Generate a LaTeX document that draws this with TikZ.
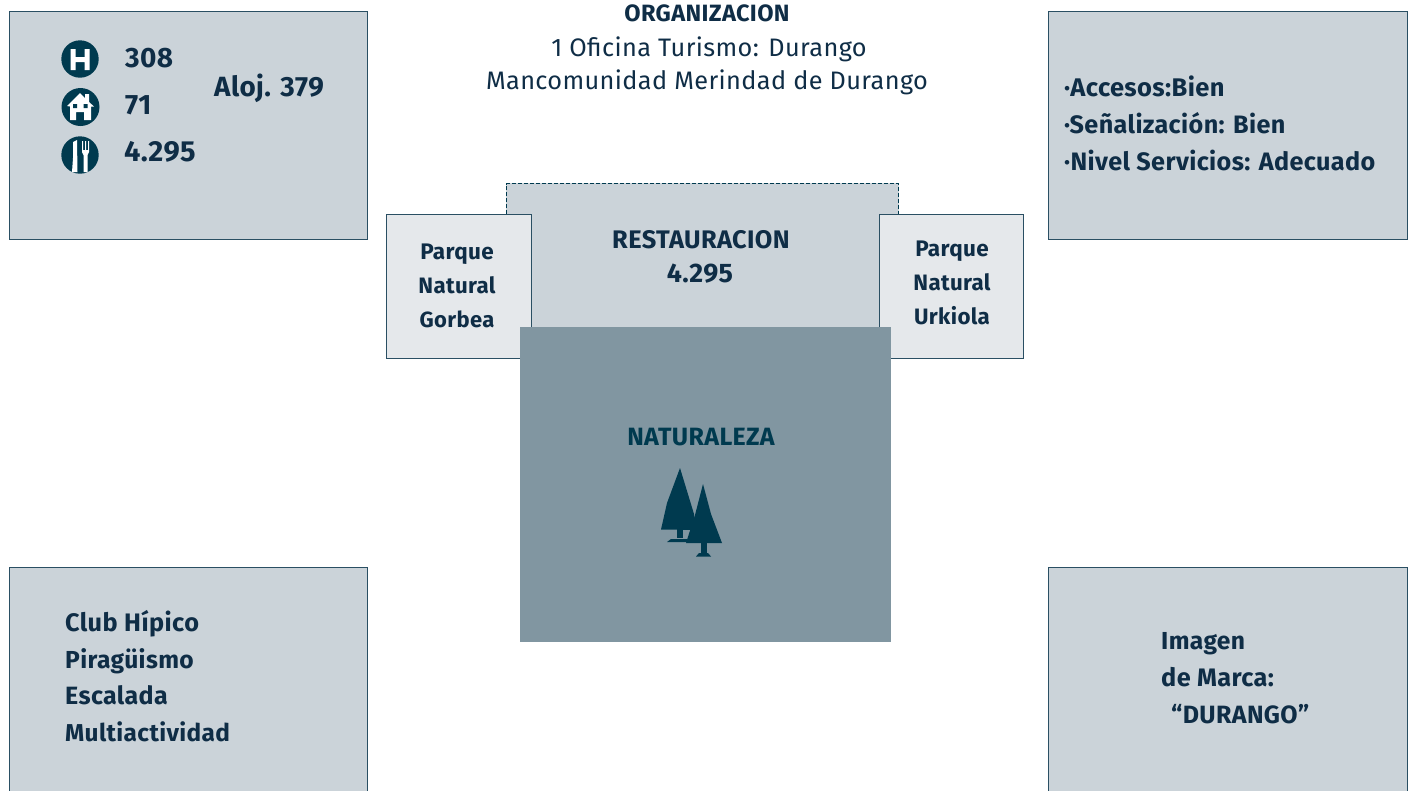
\documentclass[tikz,border=0pt]{standalone}
\usepackage{fontspec}
\setmainfont{Fira Sans}[LetterSpace=1.5]
\definecolor{boxfill}{HTML}{CBD3D9}
\definecolor{boxline}{HTML}{2A4F63}
\definecolor{lightfill}{HTML}{E5E8EB}
\definecolor{dark}{HTML}{003A4F}
\definecolor{ink}{HTML}{0F2D46}
\definecolor{natfill}{HTML}{8196A1}
\tikzset{
  panel/.style={draw=boxline,line width=0.9pt,fill=boxfill},
  sidebox/.style={draw=boxline,line width=0.9pt,fill=lightfill},
  lab/.style={anchor=base west,inner sep=0pt,text=ink,font=\fontsize{#1}{#1}\selectfont\bfseries},
  lab/.default=25,
  clab/.style={lab=#1,anchor=base},
  clab/.default=25,
  plain/.style={anchor=base,inner sep=0pt,text=ink,font=\fontsize{25.3}{25}\selectfont},
  icon/.style={fill=dark,draw=none},
  white/.style={fill=white,draw=none}
}
\begin{document}
\begin{tikzpicture}[x=1pt,y=-1pt]
\useasboundingbox (0,0) rectangle (1412,790);
% panels
\path[panel] (9,11) rectangle (367,239);
\path[panel] (1048,11) rectangle (1407,239);
\path[panel] (9,800) -- (9,567) -- (367,567) -- (367,800);
\path[panel] (1048,800) -- (1048,567) -- (1407,567) -- (1407,800);
% restauracion
\fill[boxfill] (506,183) rectangle (899,330);
\draw[dark,line width=1.8pt,dash pattern=on 4pt off 2pt] (506.5,214) -- (506.5,183.5) -- (898.5,183.5) -- (898.5,214);
\path[sidebox] (386.5,214) rectangle (531,358);
\path[sidebox] (879,214) rectangle (1023,358);
\fill[natfill] (520,327) rectangle (891,642);
% top text
\node[clab=23.6] (org) at (707,21) {ORGANIZACION};
\node[plain] (org1) at (709,56) {1 Oficina Turismo: Durango};
\node[plain] (org2) at (707,89) {Mancomunidad Merindad de Durango};
% left top
\node[lab=28] (n1) at (125,67) {308};
\node[lab=28] (n2) at (125,114) {71};
\node[lab=29] (n3) at (124,161) {4.295};
\node[lab=27.8] (n4) at (214,96) {Aloj. 379};
% icons
\fill[icon] (80,59) circle (18.7);
\fill[white] (70.5,49) rectangle (75.5,70) (84.5,49) rectangle (89.5,70) (75,57) rectangle (85,62);
\fill[icon] (80.5,107) circle (19);
\fill[white] (67,106) -- (80,93) -- (85,98) -- (85,94) -- (89,94) -- (89,102) -- (94,106.5) -- (91,106.5) -- (91,120) -- (84,120) -- (84,112) -- (76,112) -- (76,120) -- (70,120) -- (70,106.5) -- cycle;
\fill[icon] (73,104) rectangle (77,108) (83.5,104) rectangle (87.5,108);
\fill[icon] (80,155) circle (18.7);
\fill[white] (73,142) -- (77,140) -- (77.5,172) -- (72,172) -- (73,158) -- cycle;
\fill[white] (82,152) -- (82,141) -- (83,141) -- (83,150) -- (85,150) -- (85,141) -- (86,141) -- (86,150) -- (88,150) -- (88,141) -- (89,141) -- (89,152) -- (87.5,155) -- (87.5,172) -- (83.5,172) -- (83.5,155) -- cycle;
% right top
\node[lab=25.5] (a1) at (1064,96) {·Accesos:Bien};
\node[lab=25.2] (a2) at (1064,133) {·Señalización: Bien};
\node[lab=25.2] (a3) at (1064,170) {·Nivel Servicios: Adecuado};
% bottom left
\node[lab=25.3] (b1) at (65,631) {Club Hípico};
\node[lab=24.6] (b2) at (65,668) {Piragüismo};
\node[lab=25] (b3) at (65,704) {Escalada};
\node[lab=24.4] (b4) at (65,741) {Multiactividad};
% bottom right
\node[lab=24.6] (c1) at (1161,649) {Imagen};
\node[lab=25.3] (c2) at (1161,686) {de Marca:};
\node[lab=25] (c3) at (1171,723) {“DURANGO”};
% centre
\node[clab=25.4] (r1) at (701,248) {RESTAURACION};
\node[clab=26.8] (r2) at (700,282) {4.295};
\node[clab=22.5] (g1) at (457,259) {Parque};
\node[clab=22.3] (g2) at (457,293) {Natural};
\node[clab=22] (g3) at (457,327) {Gorbea};
\node[clab=22.5] (u1) at (952,256) {Parque};
\node[clab=22.3] (u2) at (952,290) {Natural};
\node[clab=22.3] (u3) at (952,324) {Urkiola};
\node[clab=25,text=dark] (nat) at (701,445) {NATURALEZA};
% trees
\fill[dark] (680,468) -- (694,514) -- (696,530) -- (661,529.5) -- (667,503) -- cycle;
\fill[dark] (677,529) rectangle (683,538);
\fill[dark] (667,542) -- (671,539) -- (690,539) -- (692,542) -- cycle;
\fill[dark] (703,484) -- (711,514) -- (722,543) -- (686,543) -- (695,515) -- cycle;
\fill[dark] (700.5,543) rectangle (706.5,553);
\fill[dark] (696,556.5) -- (699,553) -- (708,553) -- (711,556.5) -- cycle;
\end{tikzpicture}
\end{document}
